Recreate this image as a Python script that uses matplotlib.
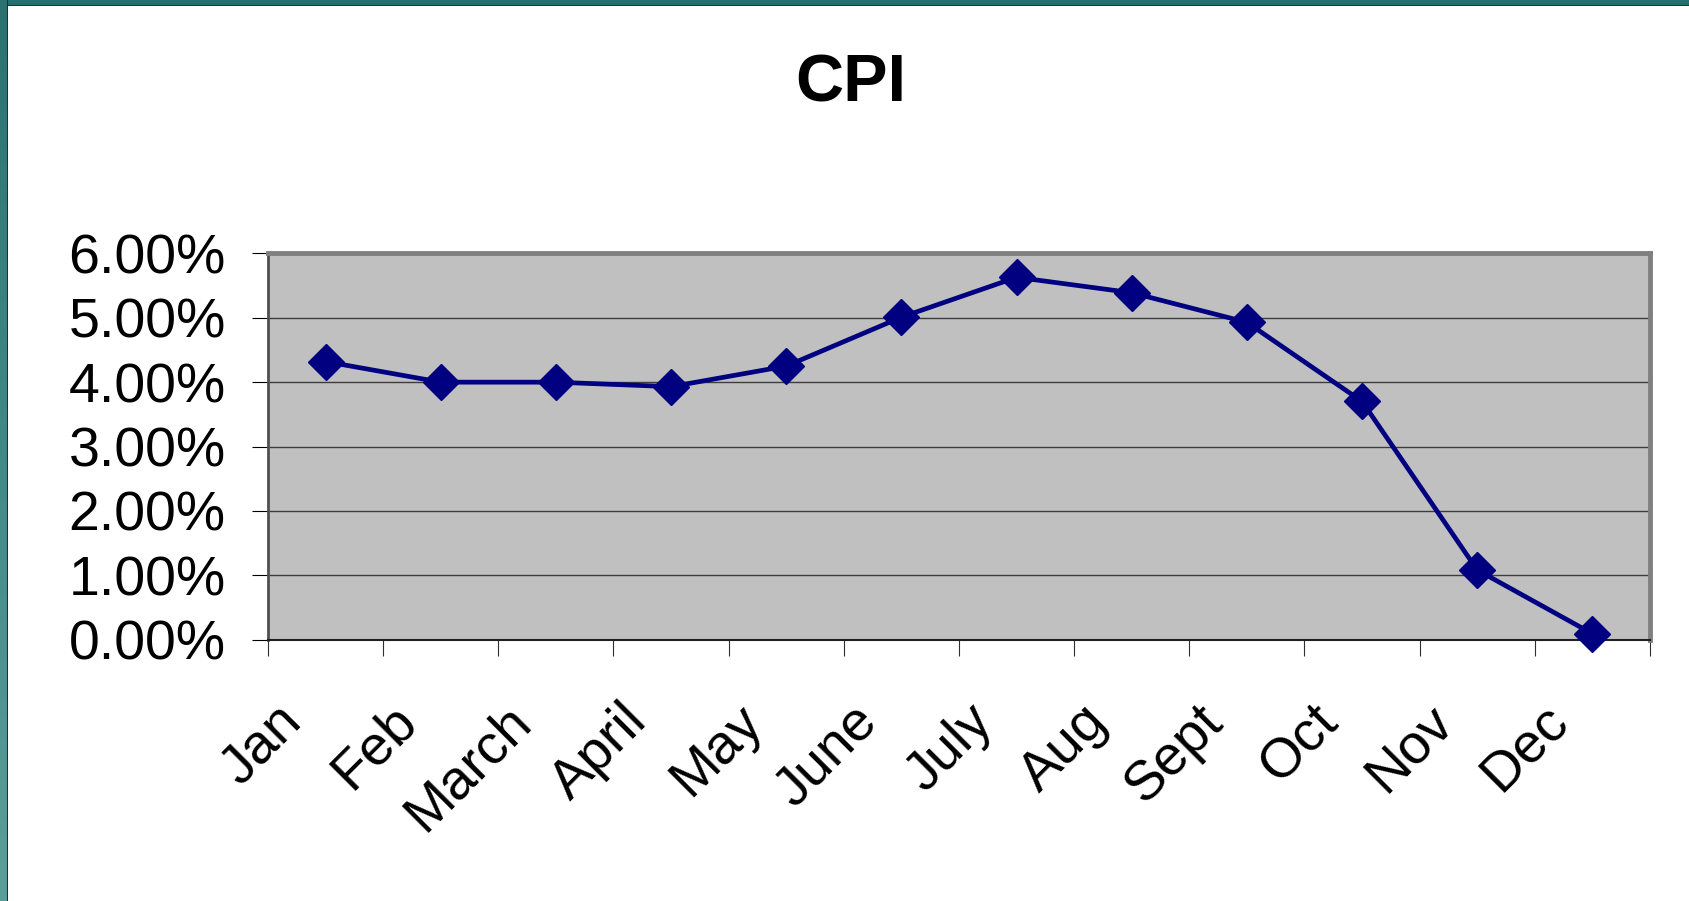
import matplotlib.pyplot as plt
import numpy as np
from matplotlib.colors import LinearSegmentedColormap
from matplotlib.ticker import FixedLocator, PercentFormatter

months = ['Jan', 'Feb', 'March', 'April', 'May', 'June', 'July',
          'Aug', 'Sept', 'Oct', 'Nov', 'Dec']
cpi = [4.32, 4.00, 4.00, 3.93, 4.25, 5.01, 5.63, 5.39, 4.93, 3.70, 1.08, 0.09]
y_ticks = [0, 1, 2, 3, 4, 5, 6]

plt.rcParams['font.family'] = ['Liberation Sans', 'DejaVu Sans']

W, H = 1690, 901
fig = plt.figure(figsize=(W / 100, H / 100), dpi=100)
fig.patch.set_facecolor('white')

# teal slide frame, top and left edges
top = fig.add_axes([0, 1 - 6 / H, 1, 6 / H])
top.set_facecolor('#266e6e')
top.set_xticks([])
top.set_yticks([])
for s in top.spines.values():
    s.set_visible(False)
top.axhline(0, color='#123838', lw=1.5)

side = fig.add_axes([0, 0, 8 / W, 1])
grad = np.linspace(0, 1, 256).reshape(-1, 1)
teal = LinearSegmentedColormap.from_list('teal', ['#5b9f9c', '#2a7272'])
side.imshow(grad, aspect='auto', cmap=teal, origin='lower', extent=[0, 1, 0, 1])
side.set_xticks([])
side.set_yticks([])
for s in side.spines.values():
    s.set_visible(False)
side.axvline(1, color='#123838', lw=1.5)

ax = fig.add_axes([268 / W, (H - 639.5) / H, (1650 - 268) / W, (639.5 - 253.5) / H])
ax.set_facecolor('#c0c0c0')

x = np.arange(len(months)) + 0.5
ax.plot(x, cpi, color='#000080', lw=3.4, marker='D', markersize=18,
        markerfacecolor='#000080', markeredgecolor='#000080', zorder=5,
        clip_on=False)

ax.set_xlim(0, len(months))
ax.set_ylim(0, 6)

for v in y_ticks[1:-1]:
    ax.axhline(v, color='#3c3c3c', lw=1.0, zorder=1)

ax.yaxis.set_major_locator(FixedLocator(y_ticks))
ax.yaxis.set_major_formatter(PercentFormatter(decimals=2))
ax.tick_params(axis='y', direction='out', length=11.5, width=0.8,
               pad=19, labelsize=40, colors='black')

# Excel puts the rotated labels a bit left of the category centre
ax.set_xticks(x - 0.44)
ax.set_xticklabels(months, rotation=45, ha='right', rotation_mode='anchor')
ax.set_xticks(np.arange(len(months) + 1), minor=True)
ax.tick_params(axis='x', which='major', length=0, pad=40, labelsize=40)
ax.tick_params(axis='x', which='minor', direction='out', length=11.5,
               width=0.8, color='#303030')

for side_name in ['top', 'right']:
    ax.spines[side_name].set_color('#808080')
    ax.spines[side_name].set_linewidth(3.5)
ax.spines['left'].set_color('#505050')
ax.spines['left'].set_linewidth(2)
ax.spines['bottom'].set_color('#202020')
ax.spines['bottom'].set_linewidth(1.5)

fig.text(851 / W, 1 - 102 / H, 'CPI', ha='center', va='baseline',
         fontsize=48, fontweight='bold')

fig.savefig('out.png', dpi=100)
